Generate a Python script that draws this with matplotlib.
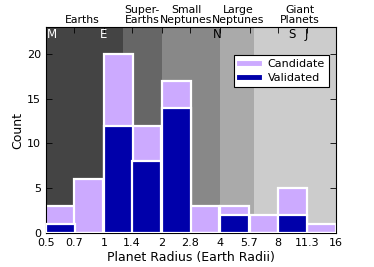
import numpy as np
import matplotlib
matplotlib.use("Agg")
import matplotlib.pyplot as plt
from matplotlib.lines import Line2D

# data
edges = [0.5, 0.7, 1, 1.4, 2, 2.8, 4, 5.7, 8, 11.3, 16]
tick_labels = ['0.5', '0.7', '1', '1.4', '2', '2.8', '4', '5.7', '8', '11.3', '16']
candidate = [3, 6, 20, 12, 17, 3, 3, 2, 5, 1]
validated = [1, 0, 12, 8, 14, 0, 2, 0, 2, 0]

region_bounds = [0.5, 1.25, 2.0, 4.0, 6.0, 16]
region_colors = ['#444444', '#666666', '#888888', '#aaaaaa', '#cccccc']
region_names = ['Earths', 'Super-\nEarths', 'Small\nNeptunes', 'Large\nNeptunes', 'Giant\nPlanets']
# where the region names sit (log2 of radius)
name_pos = [-0.38, 0.66, 1.42, 2.32, 3.38]

planets = ['E', 'N', 'S', 'J']
planet_radii = [1.0, 3.88, 9.45, 11.2]
planet_colors = ['white', 'black', 'black', 'black']

plt.rcParams['font.family'] = 'DejaVu Sans'
fig = plt.figure(figsize=(3.74, 2.67), dpi=100)
ax = fig.add_axes([0.123, 0.127, 0.775, 0.772])

xe = np.log2(edges)
lb = np.log2(region_bounds)
for i in range(len(region_colors)):
    ax.axvspan(lb[i], lb[i + 1], color=region_colors[i], lw=0, zorder=0)

w = 0.5
ax.bar(xe[:-1], candidate, width=w, align='edge', color='#ccaaff',
       edgecolor='white', linewidth=1.6, zorder=2)
ax.bar(xe[:-1], validated, width=w, align='edge', color='#0000aa',
       edgecolor='white', linewidth=1.6, zorder=3)

ax.set_xlim(xe[0], xe[-1])
ax.set_ylim(0, 23)
ax.set_xticks(xe)
ax.set_xticklabels(tick_labels, fontsize=8)
ax.set_yticks([0, 5, 10, 15, 20])
ax.tick_params(axis='y', labelsize=8)
ax.tick_params(direction='in', top=True, right=True, length=4, width=0.6)
ax.set_xlabel('Planet Radius (Earth Radii)', fontsize=9, labelpad=2)
ax.set_ylabel('Count', fontsize=9, labelpad=2)

# region labels above the axes
tr = matplotlib.transforms.blended_transform_factory(ax.transData, ax.transAxes)
for x, name in zip(name_pos, region_names):
    ax.text(x, 1.01, name, transform=tr, ha='center',
            va='bottom', fontsize=7.8, linespacing=1.0)

# planet markers
ax.text(lb[0] + 0.02, 22.9, 'M', color='white', ha='left', va='top', fontsize=8.5, zorder=4)
for p, r, c in zip(planets, planet_radii, planet_colors):
    ax.text(np.log2(r), 22.9, p, color=c, ha='center', va='top', fontsize=8.5, zorder=4)

handles = [Line2D([], [], color='#ccaaff', lw=3.5),
           Line2D([], [], color='#0000aa', lw=3.5)]
leg = ax.legend(handles, ['Candidate', 'Validated'], loc='upper right',
                bbox_to_anchor=(0.977, 0.865), fontsize=8, fancybox=False,
                framealpha=1, edgecolor='black', handlelength=1.8,
                borderaxespad=0, borderpad=0.4, labelspacing=0.3)
leg.get_frame().set_linewidth(0.8)
leg.set_zorder(5)

fig.savefig('out.png', dpi=100)
